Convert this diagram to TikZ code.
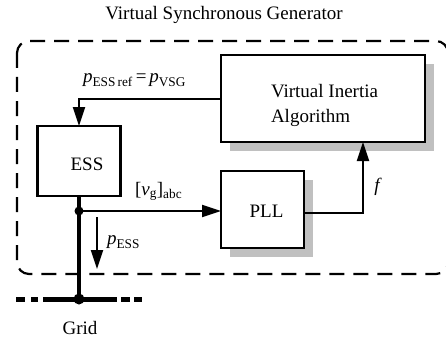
\documentclass[tikz,border=0pt]{standalone}
\usepackage{amsmath}
\usepackage{fontspec}
\setmainfont{Liberation Serif}
\usetikzlibrary{arrows.meta}
\definecolor{shadowgray}{RGB}{192,192,192}
\begin{document}
\begin{tikzpicture}[x=1pt,y=-1pt,
  every node/.style={font=\fontsize{19}{23}\selectfont, inner sep=0pt, outer sep=0pt},
  blockbox/.style={draw, line width=2.3pt, fill=white},
  arr/.style={line width=2pt, -{Triangle[length=19pt,width=12pt]}},
  shadowbox/.style={fill=shadowgray, draw=none},
  boundary/.style={line width=2.2pt, dash pattern=on 15pt off 9pt, rounded corners=12pt},
  busline/.style={line width=5pt, line cap=butt},
  feeder/.style={line width=4.5pt},
  lbl/.style={anchor=base west}
]
\useasboundingbox (0,0) rectangle (446,342);
\fill[white] (0,0) rectangle (446,342);

% title
\node[anchor=base] (title) at (224,20) {Virtual Synchronous Generator};

% dashed boundary
\draw[boundary] (17,41) rectangle (448,274);

% shadows
\fill[shadowbox] (230,64) rectangle (434,151);
\fill[shadowbox] (230,180) rectangle (313,257);

% blocks
\node[blockbox, minimum width=204pt, minimum height=87pt] (via) at (323,98.5) {};
\node[lbl] (viat1) at (271,98) {Virtual Inertia};
\node[lbl] (viat2) at (271,122) {Algorithm};

\node[blockbox, minimum width=83pt, minimum height=70pt] (ess) at (79,161) {};
\node[anchor=base] (esst) at (87,170) {ESS};

\node[blockbox, minimum width=83pt, minimum height=77pt] (pll) at (262.5,209.5) {};
\node[anchor=base] (pllt) at (266.5,217) {PLL};

% grid bus
\coordinate (gridpt) at (79,299);
\coordinate (junc) at (79,211);
\draw[feeder] (ess.south) -- (gridpt);
\draw[busline] (16,299) -- (25,299);
\draw[busline] (31,299) -- (38,299);
\draw[busline] (43,299) -- (117,299);
\draw[busline] (121,299) -- (130,299);
\draw[busline] (134,299) -- (142,299);
\fill (gridpt) circle (5.5pt);
\fill (junc) circle (4.5pt);
\node[anchor=base] (gridt) at (80,334) {Grid};

% connectors
\draw[arr] (via.west) -| (ess.north);
\draw[arr] (junc) -- (pll.west |- junc);
\draw[arr] ([yshift=-3.5pt]pll.east) -| ([xshift=40pt]via.south);

\coordinate (pa) at (97,217);
\coordinate (pb) at (97,269);
\draw[arr] (pa) -- (pb);

% labels
\node[lbl] (lref) at (83,82) {$\textit{p}_{\text{ESS\,ref}}\,\text{=}\,\textit{p}_{\text{VSG}}$};
\node[lbl] (lvg) at (135,195) {$\text{[}\textit{v}_{\text{g}}\text{]}_{\text{abc}}$};
\node[lbl] (lpess) at (107,244) {$\textit{p}_{\text{ESS}}$};
\node[anchor=base] (lf) at (378,191) {\textit{f}};
\end{tikzpicture}
\end{document}
